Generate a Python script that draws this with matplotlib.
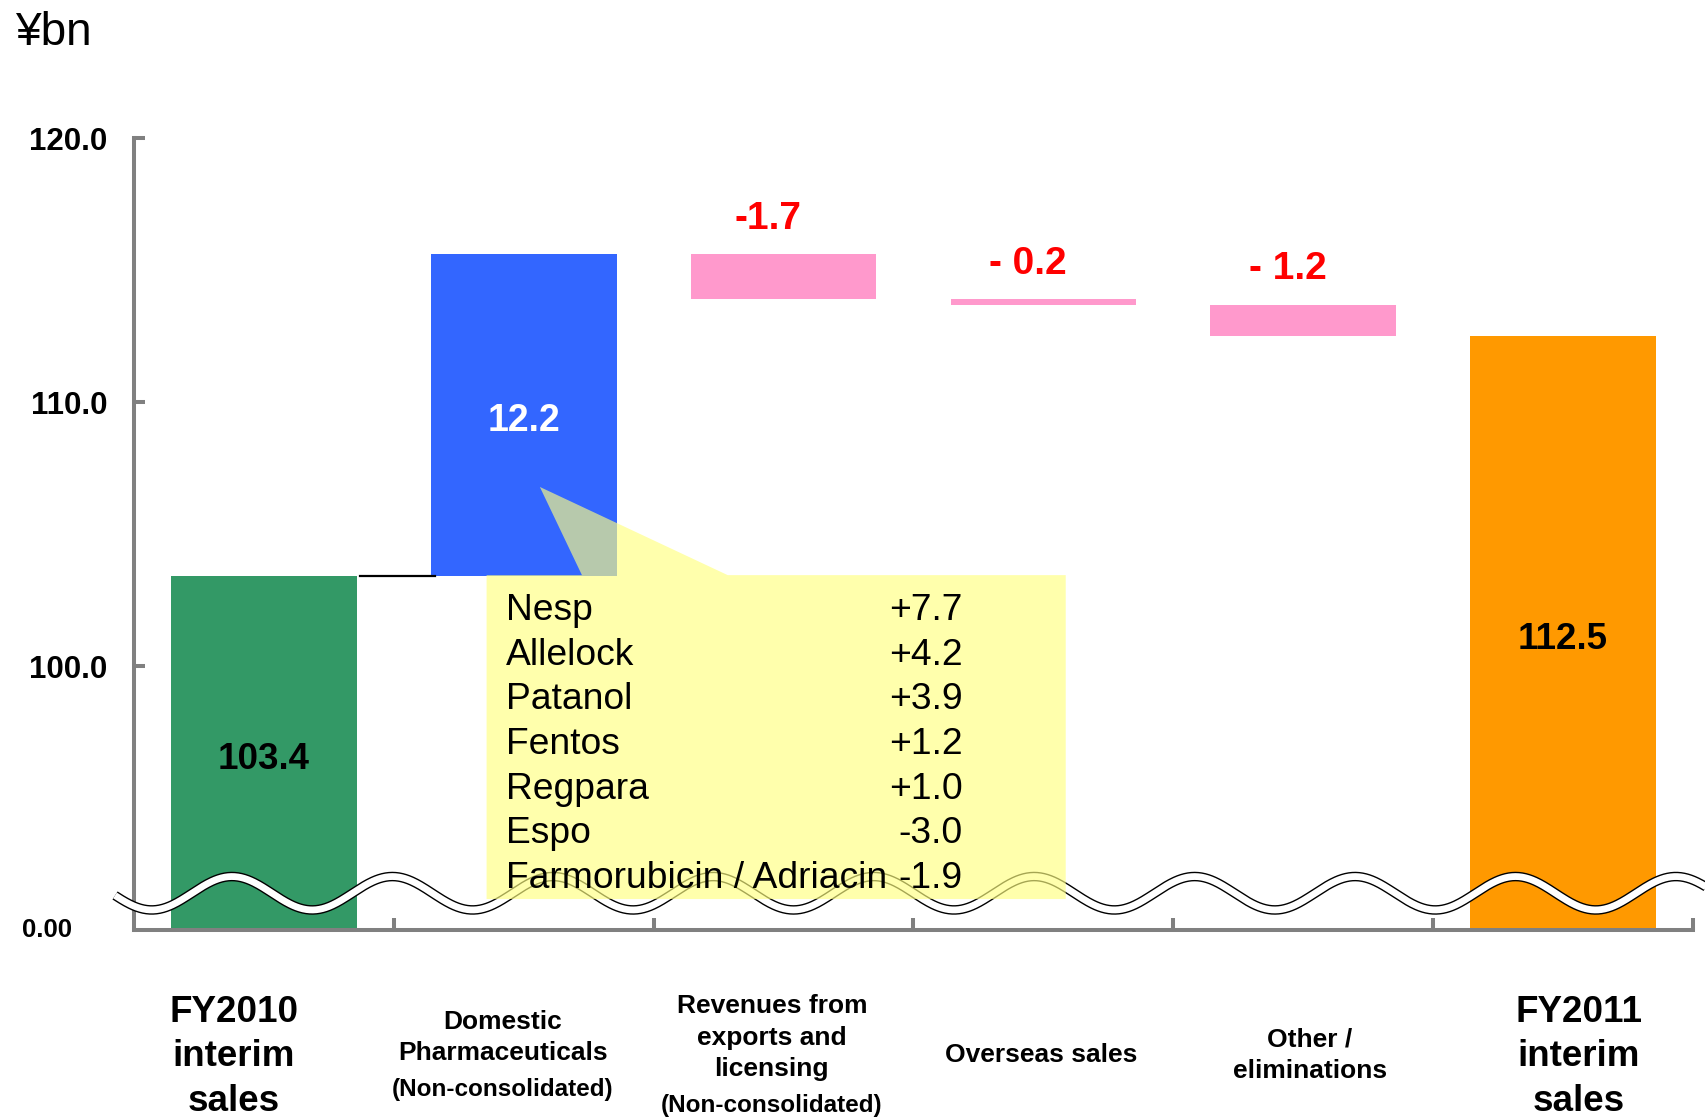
import numpy as np
import matplotlib
matplotlib.use('Agg')
import matplotlib.pyplot as plt
import matplotlib.transforms as mtransforms
from matplotlib.patches import Polygon

plt.rcParams['font.family'] = ['Liberation Sans', 'DejaVu Sans']

# data
categories = ['FY2010\ninterim\nsales', 'Domestic\nPharmaceuticals',
              'Revenues from\nexports and\nlicensing', 'Overseas sales',
              'Other /\neliminations', 'FY2011\ninterim\nsales']
sub_labels = ['', '(Non-consolidated)', '(Non-consolidated)', '', '', '']
start_value = 103.4
changes = [12.2, -1.7, -0.2, -1.2]
end_value = 112.5
change_labels = ['12.2', '-1.7', '- 0.2', '- 1.2']
callout_names = ['Nesp', 'Allelock', 'Patanol', 'Fentos', 'Regpara', 'Espo',
                 'Farmorubicin / Adriacin']
callout_values = ['+7.7', '+4.2', '+3.9', '+1.2', '+1.0', '-3.0', '-1.9']
ytick_values = [100, 110, 120]
ytick_labels = ['100.0', '110.0', '120.0']

GREEN = '#339966'
BLUE = '#3366FF'
PINK = '#FF99CC'
ORANGE = '#FF9900'
GRAY = '#808080'

fig = plt.figure(figsize=(17.06, 11.2), dpi=100)
ax = fig.add_axes([0.07855, 0.16946, 0.9138, 0.70714])
ax.set_xlim(-0.5, 5.5)
ax.set_ylim(90, 120)

w = 0.715
base = 90
# totals
ax.bar(0, start_value - base, bottom=base, width=w, color=GREEN, zorder=1)
ax.bar(5, end_value - base, bottom=base, width=w, color=ORANGE, zorder=1)

# floating bars
levels = start_value + np.cumsum(changes)
prev = start_value
for i, (c, lvl) in enumerate(zip(changes, levels)):
    x = i + 1
    col = BLUE if c > 0 else PINK
    ax.bar(x, abs(c), bottom=min(prev, lvl), width=w, color=col, zorder=1)
    if c > 0:
        ax.text(x, (prev + lvl) / 2 - 0.22, change_labels[i], ha='center', va='center',
                color='white', fontsize=27, fontweight='bold', zorder=6)
    else:
        ax.text(x - 0.06, max(prev, lvl) + 1.35, change_labels[i], ha='center',
                va='center', color='#FF0000', fontsize=28, fontweight='bold', zorder=6)
    prev = lvl

ax.text(0, (base + start_value) / 2 - 0.22, f'{start_value:.1f}', ha='center',
        va='center', fontsize=26.5, fontweight='bold', zorder=6)
ax.text(5, (base + end_value) / 2 - 0.22, f'{end_value:.1f}', ha='center',
        va='center', fontsize=26.5, fontweight='bold', zorder=6)

# connector
ax.plot([0.37, 0.66], [start_value, start_value], color='black', lw=1.6, zorder=2)

# axis break wave
wx = np.linspace(-0.573, 5.7, 1500)
wy = 91.40 + 0.633 * np.cos(2 * np.pi * (wx - 3.582) / 0.6175)
ax.plot(wx, wy, color='black', lw=6.9, solid_capstyle='butt', zorder=3, clip_on=False)
ax.plot(wx, wy, color='white', lw=4.9, solid_capstyle='butt', zorder=3.1, clip_on=False)

# callout
box_l, box_r, box_t, box_b = 0.857, 3.086, 103.45, 91.18
pts = [(box_l, box_t), (1.224, box_t), (1.062, 106.79), (1.785, box_t),
       (box_r, box_t), (box_r, box_b), (box_l, box_b)]
ax.add_patch(Polygon(pts, closed=True, facecolor='#FFFF80', edgecolor='none',
                     alpha=0.65, zorder=4))
for k, (nm, val) in enumerate(zip(callout_names, callout_values)):
    yy = 101.75 - 1.693 * k
    ax.text(0.931, yy, nm, ha='left', va='baseline', fontsize=26.8, zorder=6)
    ax.text(2.690, yy, val, ha='right', va='baseline', fontsize=26.8, zorder=6)

# axes styling
for s in ['top', 'right']:
    ax.spines[s].set_visible(False)
for s in ['left', 'bottom']:
    ax.spines[s].set_color(GRAY)
    ax.spines[s].set_linewidth(2.9)
ax.set_yticks(ytick_values)
ax.set_yticklabels(ytick_labels, fontsize=22.5, fontweight='bold')
ax.tick_params(axis='y', direction='in', length=8, width=2.9, color=GRAY, pad=19.4)
ax.set_xticks(np.arange(0.5, 6, 1))
ax.set_xticklabels([])
ax.tick_params(axis='x', direction='in', length=8.6, width=2.9, color=GRAY)
ax.annotate('0.00', xy=(0, 90), xycoords=ax.get_yaxis_transform(), xytext=(-45, 0),
            textcoords='offset points', ha='right', va='center', fontsize=18.5,
            fontweight='bold')

# category labels
trans = mtransforms.blended_transform_factory(ax.transData, fig.transFigure)
for i, (lab, sub) in enumerate(zip(categories, sub_labels)):
    lx = -0.115 + 1.035 * i
    if i in (0, 5):
        ax.text(lx, 0.0563, lab, transform=trans, ha='center', va='center',
                fontsize=26.5, fontweight='bold', linespacing=1.35)
    elif sub:
        nlines = lab.count('\n') + 1
        ax.text(lx, 0.0735, lab, transform=trans, ha='center', va='center',
                fontsize=19, fontweight='bold', linespacing=1.4)
        ysub = 0.0272 if nlines == 2 else 0.0127
        ax.text(lx, ysub, sub, transform=trans, ha='center', va='center',
                fontsize=17.5, fontweight='bold')
    else:
        ax.text(lx, 0.0578, lab, transform=trans, ha='center', va='center',
                fontsize=19, fontweight='bold', linespacing=1.4)

fig.text(15 / 1706, 1 - 45 / 1120, '¥bn', ha='left', va='baseline', fontsize=33)

fig.savefig('out.png', dpi=100)
